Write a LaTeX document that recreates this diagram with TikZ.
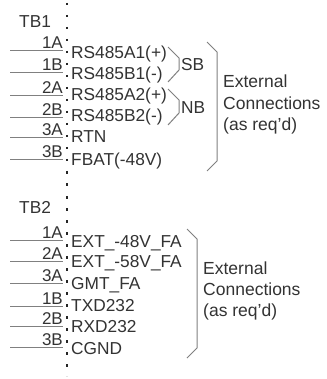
\documentclass[tikz,border=0pt]{standalone}
\usepackage{fontspec}
\setmainfont{Liberation Sans}
\definecolor{ink}{gray}{0.2}
\definecolor{wire}{gray}{0.5}
\tikzset{
  x=1pt,y=-1pt,
  lbl/.style={inner sep=0pt,text=ink,font=\fontsize{17.3}{20}\selectfont,anchor=base west},
  pin/.style={inner sep=0pt,text=ink,font=\fontsize{17}{20}\selectfont,anchor=base east},
  wireline/.style={draw=wire,line width=0.9pt},
  brace/.style={draw=wire,line width=1pt},
  dots/.style={draw=black!85,line width=2.2pt,dash pattern=on 2.5pt off 9.5pt},
  ext/.style={inner sep=0pt,text=ink,align=left,anchor=north west,font=\fontsize{17.5}{21.3}\selectfont}
}
\newcommand{\wirepin}[5]{%
  \coordinate (w#1) at (10,#3);
  \coordinate (e#1) at (63,#3);
  \draw[wireline] (w#1) -- (e#1);
  \node[pin] (p#1) at (63,#3-1.5) {#2};
  \node[lbl] (t#1) at (71,#5) {#4};
}
\begin{document}
\begin{tikzpicture}
\useasboundingbox (0,0) rectangle (326,379);
\fill[white] (0,0) rectangle (326,379);
\coordinate (d1) at (67,3);
\coordinate (d2) at (67,190);
\coordinate (d3) at (67,196);
\coordinate (d4) at (67,376);
\draw[dots] (d1) -- (d2);
\draw[dots] (d3) -- (d4);
\node[lbl] (tb1) at (19,27.5) {TB1};
\wirepin{a}{1A}{50.5}{RS485A1(+)}{59}
\wirepin{b}{1B}{72}{RS485B1(-)}{80}
\wirepin{c}{2A}{95}{RS485A2(+)}{101}
\wirepin{d}{2B}{117}{RS485B2(-)}{122}
\wirepin{e}{3A}{137}{RTN}{143}
\wirepin{f}{3B}{159}{FBAT(-48V)}{166}
\coordinate (sb1) at (168,47);
\coordinate (sb2) at (179,58);
\coordinate (sb3) at (179,70);
\coordinate (sb4) at (168,82);
\draw[brace] (sb1) -- (sb2) -- (sb3) -- (sb4);
\node[lbl] (sb) at (181,71) {SB};
\coordinate (nb1) at (168,89);
\coordinate (nb2) at (179,100);
\coordinate (nb3) at (179,113);
\coordinate (nb4) at (168,125);
\draw[brace] (nb1) -- (nb2) -- (nb3) -- (nb4);
\node[lbl] (nb) at (181,114) {NB};
\coordinate (x1) at (207,42);
\coordinate (x2) at (217,52);
\coordinate (x3) at (217,161);
\coordinate (x4) at (207,171);
\draw[brace] (x1) -- (x2) -- (x3) -- (x4);
\node[ext] (ext1) at (223,75) {External\\Connections\\(as req'd)};
\node[lbl] (tb2) at (19,213) {TB2};
\wirepin{g}{1A}{240}{EXT\_-48V\_FA}{247}
\wirepin{h}{2A}{261}{EXT\_-58V\_FA}{267}
\wirepin{i}{3A}{283}{GMT\_FA}{289}
\wirepin{j}{1B}{306}{TXD232}{311}
\wirepin{k}{2B}{326}{RXD232}{332}
\wirepin{l}{3B}{347}{CGND}{354}
\coordinate (y1) at (187,229);
\coordinate (y2) at (197,239);
\coordinate (y3) at (197,348);
\coordinate (y4) at (187,358);
\draw[brace] (y1) -- (y2) -- (y3) -- (y4);
\node[ext] (ext2) at (203,261.5) {External\\Connections\\(as req'd)};
\end{tikzpicture}
\end{document}
